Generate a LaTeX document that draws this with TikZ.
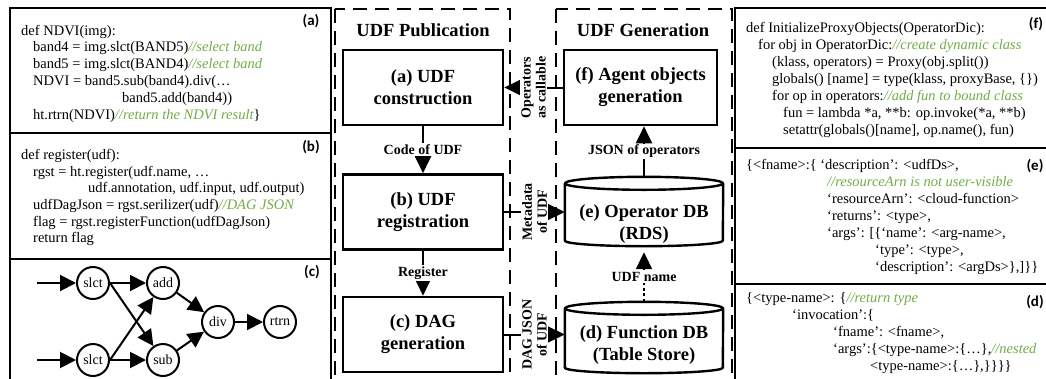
\documentclass[tikz,border=0pt]{standalone}
\usepackage{fontspec}
\setmainfont{Liberation Serif}
\newfontfamily\tagfont{Carlito}
\usetikzlibrary{arrows.meta}
\definecolor{cmtgreen}{HTML}{70AD47}
\newcommand{\cm}[1]{{\color{cmtgreen}\itshape #1}}

\tikzset{
  panel/.style={line width=2.6pt},
  zone/.style={line width=2.4pt, dash pattern=on 14pt off 8pt},
  bigfont/.style={font=\fontsize{18.5}{22}\selectfont\bfseries},
  stagebox/.style={draw, line width=2.6pt, minimum width=160pt, minimum height=75pt,
    align=center, bigfont},
  store/.style={inner sep=0pt, minimum width=158pt, minimum height=69pt},
  storeline/.style={line width=2.4pt, line join=round},
  storetext/.style={align=center, inner sep=0pt, bigfont},
  flow/.style={line width=2pt, -{Triangle[length=17pt,width=16pt]}},
  flowlabel/.style={fill=white, inner sep=1.5pt, align=center,
    font=\fontsize{14}{15}\selectfont\bfseries},
  code/.style={anchor=base west, inner sep=0pt, font=\fontsize{14.5}{17}\selectfont},
  tag/.style={inner sep=0pt, font=\tagfont\bfseries\fontsize{15}{17}\selectfont},
  opnode/.style={circle, draw, line width=2pt, minimum size=32pt, inner sep=0pt,
    font=\fontsize{14}{16}\selectfont},
  edge/.style={line width=2pt, -{Triangle[length=16pt,width=16pt]}},
  head/.style={bigfont}
}

\begin{document}
\begin{tikzpicture}[x=1pt, y=-1pt]
\useasboundingbox (0,0) rectangle (1046,378);
\clip (0,0) rectangle (1046,378);

% ---------- left panels: code (a), (b) and graph (c) ----------
\draw[panel] (10,8) rectangle (331,400);
\draw[panel] (10,133) -- (331,133);
\draw[panel] (10,259) -- (331,259);

\node[tag] (ta) at (311,21) {(a)};
\node[code] (a1) at (21,35) {def NDVI(img):};
\node[code] (a2) at (33,51.8) {band4 = img.slct(BAND5)\cm{//select band}};
\node[code] (a3) at (33,68.6) {band5 = img.slct(BAND4)\cm{//select band}};
\node[code] (a4) at (33,85.4) {NDVI = band5.sub(band4).div(…};
\node[code] (a5) at (122,102.2) {band5.add(band4))};
\node[code] (a6) at (33,119) {ht.rtrn(NDVI)\cm{//return the NDVI result}\}};

\node[tag] (tb) at (311,147) {(b)};
\node[code] (b1) at (21,159) {def register(udf):};
\node[code] (b2) at (33,176) {rgst = ht.register(udf.name, …};
\node[code] (b3) at (88,192.5) {udf.annotation, udf.input, udf.output)};
\node[code] (b4) at (33,209) {udfDagJson = rgst.serilizer(udf)\cm{//DAG JSON}};
\node[code] (b5) at (33,226) {flag = rgst.registerFunction(udfDagJson)};
\node[code] (b6) at (33,242.5) {return flag};

\node[tag] (tc) at (312,272) {(c)};
\node[opnode] (s1) at (93,283) {slct};
\node[opnode] (s2) at (93,360) {slct};
\node[opnode] (add) at (163,283) {add};
\node[opnode] (sub) at (163,360) {sub};
\node[opnode] (div) at (218,322) {div};
\node[opnode] (rtrn) at (280,322) {rtrn};
\coordinate (in1) at (37,283);
\coordinate (in2) at (37,360);
\draw[edge] (in1) -- (s1);
\draw[edge] (in2) -- (s2);
\draw[edge] (s1) -- (add);
\draw[edge] (s1.east) -- (sub);
\draw[edge] (s2.east) -- (add);
\draw[edge] (s2) -- (sub);
\draw[edge] (add) -- (div);
\draw[edge] (sub) -- (div);
\draw[edge] (div) -- (rtrn);

% ---------- UDF Publication ----------
\draw[zone] (335,9) rectangle (510,400);
\node[head] (pubhead) at (423,30.5) {UDF Publication};
\node[stagebox] (a) at (423,87.5) {(a) UDF\\construction};
\node[stagebox] (b) at (423,212) {(b) UDF\\registration};
\node[stagebox] (c) at (423,334.5) {(c) DAG\\generation};
\draw[flow] (a) -- node[flowlabel] {Code of UDF} (b);
\draw[flow] (b) -- node[flowlabel] {Register} (c);

% ---------- UDF Generation ----------
\draw[zone] (556,9) rectangle (732,400);
\node[head] (genhead) at (643,30.5) {UDF Generation};
\node[stagebox, minimum width=153pt] (f) at (640.5,87.5) {(f) Agent objects\\generation};

% the two databases: a node for the body, outlined as a cylinder
\node[store] (e) at (644,211.5) {};
\node[store, minimum height=71pt] (d) at (644,337.5) {};
\foreach \db in {e,d} {
  \draw[storeline] ([yshift=-6.5pt]\db.north) ellipse[x radius=79pt, y radius=6.5pt];
  \draw[storeline] ([yshift=-6.5pt]\db.north west) -- ([yshift=5.5pt]\db.south west)
    arc[start angle=180, end angle=360, x radius=79pt, y radius=5.5pt]
    -- ([yshift=-6.5pt]\db.north east);
}
\node[storetext] (etext) at (644,224) {(e) Operator DB\\(RDS)};
\node[storetext] (dtext) at (644,345) {(d) Function DB\\(Table Store)};

\draw[flow] (e.north) -- node[flowlabel] {JSON of operators} (e.north |- f.south);
\draw[flow, dash pattern=on 3pt off 2.5pt] (d.north) -- node[flowlabel] {UDF name} ([yshift=-6pt]e.south);

% ---------- links between the two columns ----------
\draw[flow] (f.west) -- node[flowlabel, rotate=90] {Operators\\as callable} (a.east);
\draw[flow] (b.east) -- node[flowlabel, rotate=90] {Metadata\\of UDF} (b.east -| e.west);
\draw[flow] (c.east) -- node[flowlabel, rotate=90] {DAG JSON\\of UDF} (c.east -| d.west);

% ---------- right panels: code (f), (e), (d) ----------
\draw[panel] (735,8) rectangle (1070,400);
\draw[panel] (735,148) -- (1070,148);
\draw[panel] (735,284) -- (1070,284);

\node[tag] (tf) at (1036,24) {(f)};
\node[code] (f1) at (746,32) {def InitializeProxyObjects(OperatorDic):};
\node[code] (f2) at (758,49) {for obj in OperatorDic:\cm{//create dynamic class}};
\node[code] (f3) at (772,66) {(klass, operators) = Proxy(obj.split())};
\node[code] (f4) at (772,83) {globals() [name] = type(klass, proxyBase, \{\})};
\node[code] (f5) at (772,100) {for op in operators:\cm{//add fun to bound class}};
\node[code] (f6) at (783,117) {fun = lambda *a, **b: op.invoke(*a, **b)};
\node[code] (f7) at (783,134) {setattr(globals()[name], op.name(), fun)};

\node[tag] (te) at (1035,166) {(e)};
\node[code] (e1) at (746,169) {\{<fname>:\{ ‘description’: <udfDs>,};
\node[code] (e2) at (827,186) {\cm{//resourceArn is not user-visible}};
\node[code] (e3) at (827,203.5) {‘resourceArn’: <cloud-function>};
\node[code] (e4) at (827,220.5) {‘returns’: <type>,};
\node[code] (e5) at (827,237.5) {‘args’: [\{‘name’: <arg-name>,};
\node[code] (e6) at (875,254.5) {‘type’: <type>,};
\node[code] (e7) at (875,271.5) {‘description’: <argDs>\},]\}\}};

\node[tag] (td) at (1035,302) {(d)};
\node[code] (d1) at (746,302) {\{<type-name>: \{\cm{//return type}};
\node[code] (d2) at (792,319) {‘invocation’:\{};
\node[code] (d3) at (833,336) {‘fname’: <fname>,};
\node[code] (d4) at (833,353) {‘args’:\{<type-name>:\{…\},\cm{//nested}};
\node[code] (d5) at (870,370) {<type-name>:\{…\},\}\}\}\}};
\end{tikzpicture}
\end{document}
